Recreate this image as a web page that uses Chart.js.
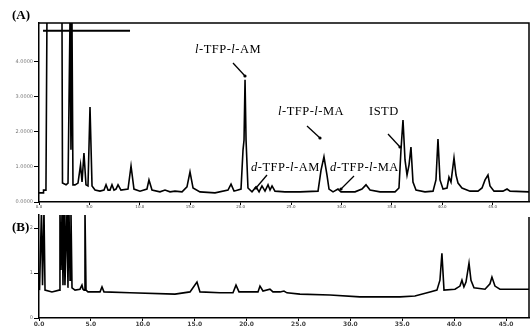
<!DOCTYPE html>
<html>
<head>
<meta charset="utf-8">
<script src="https://cdn.jsdelivr.net/npm/chart.js@4"></script>
<style>
  body { margin: 0; background: #fff; }
  canvas { position: absolute; left: 0; }
  #chartA { top: 0; }
  #chartB { top: 210px; }
</style>
</head>
<body>
<canvas id="chartA" width="532" height="210"></canvas>
<canvas id="chartB" width="532" height="116"></canvas>
<script>
// Chromatogram (A): retention time (min) and detector signal
const timeA = [0.00, 0.40, 0.45, 0.69, 0.79, 2.28, 2.33, 2.68, 2.88, 3.08, 3.17, 3.27, 3.37, 3.57, 3.87, 4.12, 4.27, 4.46, 4.66, 4.86,
  5.06, 5.26, 5.56, 6.05, 6.45, 6.65, 6.85, 7.04, 7.24, 7.44, 7.64, 7.84, 8.13, 8.83, 9.13, 9.42, 10.02, 10.71, 10.91, 11.21,
  12.00, 12.50, 13.00, 13.49, 14.19, 14.68, 14.98, 15.28, 15.97, 17.46, 18.75, 19.05, 19.35, 20.04, 20.24, 20.34, 20.44, 20.54, 20.73, 21.13,
  21.53, 21.83, 22.12, 22.42, 22.72, 22.92, 23.12, 23.41, 24.40, 25.89, 27.68, 27.98, 28.27, 28.57, 28.77, 29.17, 29.66, 29.96, 31.35, 32.04,
  32.44, 32.84, 33.83, 35.32, 35.71, 35.91, 36.11, 36.31, 36.51, 36.71, 36.90, 37.10, 37.40, 38.29, 39.09, 39.38, 39.58, 39.78, 40.08, 40.48,
  40.67, 40.87, 41.17, 41.37, 41.57, 41.96, 42.76, 43.55, 43.95, 44.25, 44.54, 44.74, 45.14, 46.03, 46.43, 46.73, 48.61];
const signalA = [0.26, 0.26, 0.34, 0.34, 5.3, 5.3, 0.54, 0.49, 0.54, 5.3, 1.49, 5.3, 0.49, 0.49, 0.54, 1.06, 0.57, 1.40, 0.49, 0.46,
  2.71, 0.46, 0.34, 0.31, 0.34, 0.49, 0.34, 0.34, 0.49, 0.34, 0.37, 0.49, 0.34, 0.37, 1.03, 0.37, 0.31, 0.37, 0.63, 0.34,
  0.29, 0.34, 0.29, 0.31, 0.29, 0.43, 0.86, 0.40, 0.29, 0.26, 0.34, 0.51, 0.31, 0.37, 1.49, 1.77, 3.49, 1.77, 0.40, 0.29,
  0.43, 0.29, 0.46, 0.31, 0.49, 0.34, 0.46, 0.31, 0.29, 0.29, 0.31, 0.91, 1.29, 0.77, 0.37, 0.29, 0.37, 0.29, 0.29, 0.37,
  0.49, 0.34, 0.29, 0.29, 0.40, 1.49, 2.34, 1.20, 0.77, 1.06, 1.57, 0.57, 0.34, 0.29, 0.31, 0.63, 1.80, 0.63, 0.37, 0.40,
  0.71, 0.57, 1.26, 0.77, 0.54, 0.40, 0.31, 0.31, 0.40, 0.63, 0.77, 0.46, 0.31, 0.31, 0.37, 0.31, 0.29];
// off-scale plotter line at the top of panel A
const plateauTime = [0.40, 9.03];
const plateauSignal = [4.89, 4.89];
const yTicksA = [0, 1, 2, 3, 4];

// Chromatogram (B)
const timeB = [0.05, 0.24, 0.34, 0.48, 0.58, 1.25, 1.93, 2.02, 2.12, 2.22, 2.31, 2.41, 2.50, 2.70, 2.79, 2.89, 2.99, 3.08, 3.18, 3.47,
  3.95, 4.14, 4.24, 4.34, 4.43, 4.53, 4.72, 5.88, 6.07, 6.26, 8.77, 13.10, 14.55, 15.22, 15.51, 17.44, 18.69, 18.98, 19.27, 21.10,
  21.29, 21.58, 22.25, 22.54, 23.22, 23.60, 23.89, 25.14, 28.03, 30.92, 34.78, 36.22, 37.67, 38.34, 38.63, 38.82, 39.02, 40.08, 40.56, 40.75,
  40.94, 41.14, 41.43, 41.62, 41.91, 42.97, 43.45, 43.64, 43.93, 44.41, 47.21];
const signalB = [0.62, 2.4, 0.73, 2.4, 0.62, 0.58, 0.62, 2.4, 1.07, 2.4, 0.73, 2.4, 0.73, 2.4, 0.67, 2.4, 0.84, 2.4, 0.67, 0.62,
  0.64, 0.73, 0.64, 0.62, 2.4, 0.62, 0.58, 0.58, 0.69, 0.58, 0.56, 0.53, 0.58, 0.80, 0.58, 0.56, 0.56, 0.73, 0.58, 0.58,
  0.71, 0.60, 0.64, 0.58, 0.58, 0.60, 0.56, 0.53, 0.51, 0.47, 0.47, 0.49, 0.58, 0.62, 0.84, 1.44, 0.62, 0.64, 0.71, 0.84,
  0.69, 0.80, 1.22, 0.84, 0.67, 0.64, 0.76, 0.91, 0.71, 0.64, 0.64];
const yTicksB = [0, 1, 2];

// peak labels in panel A, each part flagged italic or not
const peakLabels = [
  { parts: [['l', true], ['-TFP-', false], ['l', true], ['-AM', false]], x: 195, y: 53, arrow: [233, 63, 245, 76] },
  { parts: [['l', true], ['-TFP-', false], ['l', true], ['-MA', false]], x: 278, y: 115, arrow: [307, 126, 320, 138] },
  { parts: [['ISTD', false]], x: 369, y: 115, arrow: [388, 134, 400, 147] },
  { parts: [['d', true], ['-TFP-', false], ['l', true], ['-AM', false]], x: 251, y: 171, arrow: [267, 175, 256, 188] },
  { parts: [['d', true], ['-TFP-', false], ['l', true], ['-MA', false]], x: 330, y: 171, arrow: [354, 176, 341, 189] }
];

function toPoints(xs, ys) {
  return xs.map((x, i) => ({ x: x, y: ys[i] }));
}

const frameA = {
  id: 'frameA',
  afterDraw(chart) {
    const { ctx, chartArea: a } = chart;
    ctx.save();
    ctx.strokeStyle = '#000';
    ctx.lineWidth = 1.5;
    ctx.beginPath();
    ctx.moveTo(a.left, a.top);
    ctx.lineTo(a.right, a.top);
    ctx.lineTo(a.right, a.bottom);
    ctx.stroke();
    ctx.fillStyle = '#000';
    ctx.font = 'bold 13px "Liberation Serif"';
    ctx.fillText('(A)', 12, 19);
    ctx.letterSpacing = '0.5px';
    peakLabels.forEach(l => {
      let x = l.x;
      l.parts.forEach(([s, it]) => {
        ctx.font = (it ? 'italic ' : '') + '12.5px "Liberation Serif"';
        ctx.fillText(s, x, l.y);
        x += ctx.measureText(s).width;
      });
      const [x1, y1, x2, y2] = l.arrow;
      ctx.lineWidth = 1.3;
      ctx.beginPath();
      ctx.moveTo(x1, y1);
      ctx.lineTo(x2, y2);
      ctx.stroke();
      ctx.beginPath();
      ctx.arc(x2, y2, 1.6, 0, Math.PI * 2);
      ctx.fill();
    });
    ctx.restore();
  }
};

const frameB = {
  id: 'frameB',
  afterDraw(chart) {
    const { ctx, chartArea: a } = chart;
    ctx.save();
    ctx.strokeStyle = '#000';
    ctx.lineWidth = 1.5;
    ctx.beginPath();
    ctx.moveTo(a.right, a.top + 2);
    ctx.lineTo(a.right, a.bottom);
    ctx.stroke();
    ctx.fillStyle = '#000';
    ctx.font = 'bold 13px "Liberation Serif"';
    ctx.fillText('(B)', 12, 21);
    ctx.restore();
  }
};

function makeOptions(xMax, yMax, yTicks, top, yFmt, xFont) {
  return {
    responsive: false,
    animation: false,
    layout: { padding: { top: top, right: 3, left: 0, bottom: 0 } },
    plugins: { legend: { display: false }, tooltip: { enabled: false } },
    elements: { point: { radius: 0 }, line: { tension: 0 } },
    scales: {
      x: {
        type: 'linear', min: 0, max: xMax,
        afterFit(s) { s.height = 8; },
        border: { color: '#000', width: 1.5 },
        grid: { drawOnChartArea: false, tickLength: 3, color: '#000' },
        ticks: { stepSize: 5, includeBounds: false, maxRotation: 0, padding: 0,
          font: xFont, color: '#444', callback: v => v.toFixed(1) }
      },
      y: {
        min: 0, max: yMax,
        afterFit(s) { s.width = 39; },
        afterBuildTicks(s) { s.ticks = yTicks.map(v => ({ value: v })); },
        border: { color: '#000', width: 1.5 },
        grid: { drawOnChartArea: false, tickLength: 5, color: '#000' },
        ticks: { padding: 1, font: { size: 5, family: 'DejaVu Sans' }, color: '#777', callback: yFmt }
      }
    }
  };
}

new Chart(document.getElementById('chartA').getContext('2d'), {
  type: 'line',
  data: {
    datasets: [
      { data: toPoints(timeA, signalA), borderColor: '#000', borderWidth: 1.6, fill: false },
      { data: toPoints(plateauTime, plateauSignal), borderColor: '#000', borderWidth: 2, fill: false }
    ]
  },
  options: makeOptions(48.61, 5.11, yTicksA, 23, v => v.toFixed(4), { size: 4, family: 'DejaVu Sans' }),
  plugins: [frameA]
});

new Chart(document.getElementById('chartB').getContext('2d'), {
  type: 'line',
  data: {
    datasets: [
      { data: toPoints(timeB, signalB), borderColor: '#000', borderWidth: 1.6, fill: false }
    ]
  },
  options: makeOptions(47.21, 2.29, yTicksB, 5, v => v.toFixed(0), { size: 6, family: 'DejaVu Sans', weight: 'bold' }),
  plugins: [frameB]
});
</script>
</body>
</html>
